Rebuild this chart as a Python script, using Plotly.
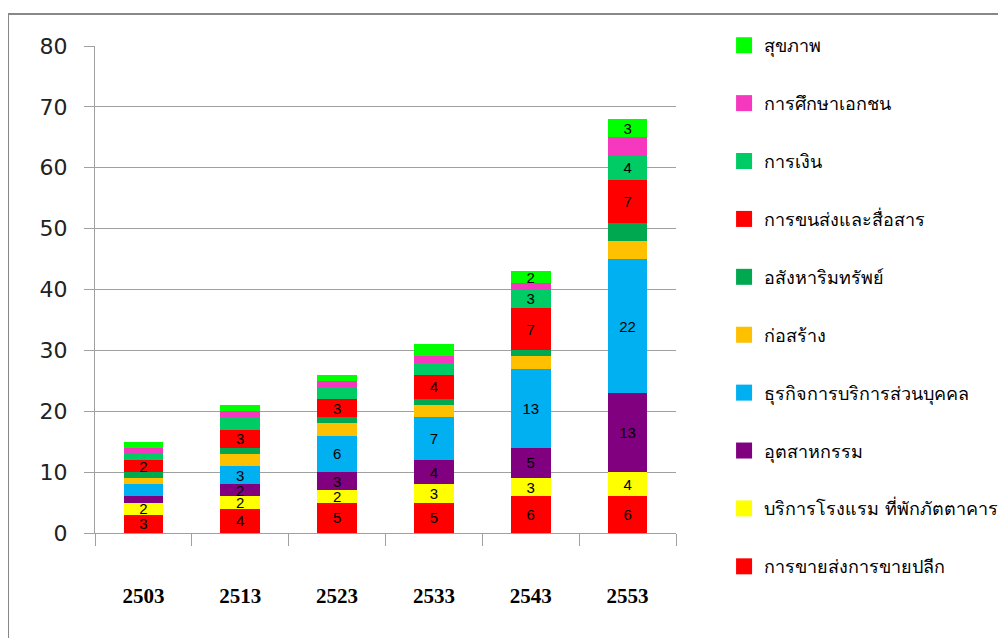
import plotly.graph_objects as go

years = ["2503", "2513", "2523", "2533", "2543", "2553"]

# series from bottom of stack to top
series_names = [
    "การขายส่งการขายปลีก",
    "บริการโรงแรม ที่พักภัตตาคาร",
    "อุตสาหกรรม",
    "ธุรกิจการบริการส่วนบุคคล",
    "ก่อสร้าง",
    "อสังหาริมทรัพย์",
    "การขนส่งและสื่อสาร",
    "การเงิน",
    "การศึกษาเอกชน",
    "สุขภาพ",
]
retail = [3, 4, 5, 5, 6, 6]
hotel = [2, 2, 2, 3, 3, 4]
industry = [1, 2, 3, 4, 5, 13]
services = [2, 3, 6, 7, 13, 22]
construction = [1, 2, 2, 2, 2, 3]
real_estate = [1, 1, 1, 1, 1, 3]
transport = [2, 3, 3, 4, 7, 7]
finance = [1, 2, 2, 2, 3, 4]
education = [1, 1, 1, 1, 1, 3]
health = [1, 1, 1, 2, 2, 3]

# which segments carry a value label in the original
retail_lbl = [1, 1, 1, 1, 1, 1]
hotel_lbl = [1, 1, 1, 1, 1, 1]
industry_lbl = [0, 1, 1, 1, 1, 1]
services_lbl = [0, 1, 1, 1, 1, 1]
construction_lbl = [0, 0, 0, 0, 0, 0]
real_estate_lbl = [0, 0, 0, 0, 0, 0]
transport_lbl = [1, 1, 1, 1, 1, 1]
finance_lbl = [0, 0, 0, 0, 1, 1]
education_lbl = [0, 0, 0, 0, 0, 0]
health_lbl = [0, 0, 0, 0, 1, 1]

values = [retail, hotel, industry, services, construction, real_estate,
          transport, finance, education, health]
labels = [retail_lbl, hotel_lbl, industry_lbl, services_lbl, construction_lbl,
          real_estate_lbl, transport_lbl, finance_lbl, education_lbl, health_lbl]
colors = ["#FF0000", "#FFFF00", "#800080", "#00B0F0", "#FFC000",
          "#00A84F", "#FF0000", "#00CC66", "#F538BE", "#00FF00"]

fig = go.Figure()
for name, vals, lbl, col in zip(series_names, values, labels, colors):
    fig.add_trace(go.Bar(
        x=years, y=vals, name=name, marker=dict(color=col, line=dict(width=0)),
        text=[str(v) if s else "" for v, s in zip(vals, lbl)],
        textposition="inside", insidetextanchor="middle", constraintext="none",
        textangle=0,
        textfont=dict(family="Liberation Sans", size=15, color="black"),
        showlegend=False,
    ))
# legend entries (top of stack listed first) with larger square markers
for name, col in reversed(list(zip(series_names, colors))):
    fig.add_trace(go.Scatter(
        x=[None], y=[None], mode="markers", name=name, legendgroup=name,
        marker=dict(symbol="square", size=16, color=col),
    ))

fig.update_layout(
    barmode="stack", bargap=0.59,
    width=998, height=630,
    margin=dict(l=87, r=330, t=38, b=105, autoexpand=False),
    paper_bgcolor="white", plot_bgcolor="white",
    legend=dict(
        xref="container", yref="container",
        x=0.7175, xanchor="left", y=0.9698, yanchor="top",
        traceorder="grouped", tracegroupgap=31.5, maxheight=1000,
        font=dict(family="Tahoma, DejaVu Sans, sans-serif", size=18, color="black"),
        itemsizing="trace",
    ),
    shapes=[
        dict(type="line", xref="paper", yref="paper", x0=-0.1497, x1=2.0,
             y0=1.0657, y1=1.0657, line=dict(color="#888888", width=2)),
        dict(type="line", xref="paper", yref="paper", x0=-0.1497, x1=-0.1497,
             y0=1.0657, y1=-0.3, line=dict(color="#888888", width=2)),
    ],
)
fig.update_yaxes(
    range=[0, 80], dtick=10, showgrid=True, gridcolor="#A0A0A0", gridwidth=1,
    showline=True, linecolor="#A0A0A0", linewidth=1,
    ticks="outside", ticklen=10, tickcolor="#A0A0A0",
    tickfont=dict(family="DejaVu Sans", size=22, color="#222222"),
    ticklabelstandoff=12, zeroline=False,
)
fig.update_xaxes(
    type="category", showline=True, linecolor="#A0A0A0", linewidth=1,
    ticks="outside", ticklen=12, tickcolor="#A0A0A0", tickson="boundaries",
    tickfont=dict(family="Liberation Serif", size=21, color="black", weight="bold"),
    ticklabelstandoff=44, showgrid=False,
)

fig.write_html("out.html")
